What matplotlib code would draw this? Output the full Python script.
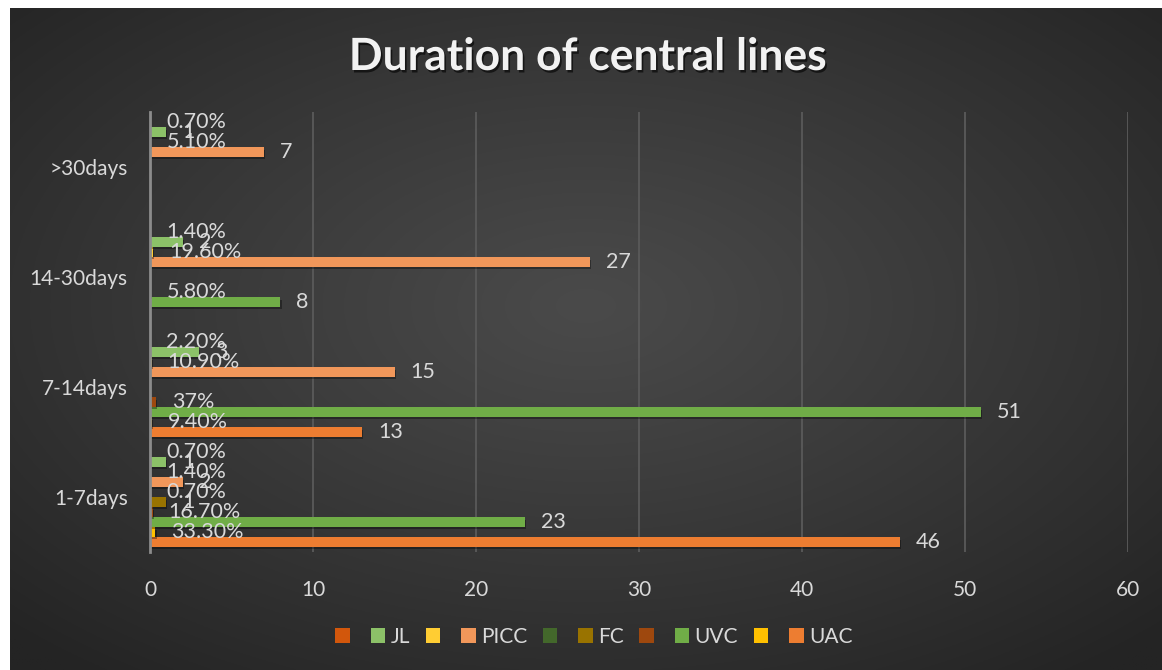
import numpy as np
import matplotlib
matplotlib.use("Agg")
import matplotlib.pyplot as plt
import matplotlib.patheffects as pe
from matplotlib.patches import Patch

nan = np.nan

categories = ["1-7days", "7-14days", "14-30days", ">30days"]

# counts per line type and the share labels that go with them
uac = [46, 13, nan, nan]
uac_pct = ["33.30%", "9.40%", None, None]
uvc = [23, 51, 8, nan]
uvc_pct = ["16.70%", "37%", "5.80%", None]
fc = [1, nan, nan, nan]
fc_pct = ["0.70%", None, None, None]
picc = [2, 15, 27, 7]
picc_pct = ["1.40%", "10.90%", "19.60%", "5.10%"]
jl = [1, 3, 2, 1]
jl_pct = ["0.70%", "2.20%", "1.40%", "0.70%"]

x_ticks = [0, 10, 20, 30, 40, 50, 60]


def pct_values(labels):
    return [float(s.rstrip("%")) / 100 if s else nan for s in labels]


def count_labels(values):
    return ["" if np.isnan(v) else f"{v:g}" for v in values]


# bottom to top inside each group
series = [
    ("UAC", uac, count_labels(uac), "#ED7D31"),
    ("", pct_values(uac_pct), uac_pct, "#FFC000"),
    ("UVC", uvc, count_labels(uvc), "#70AD47"),
    ("", pct_values(uvc_pct), uvc_pct, "#9E480E"),
    ("FC", fc, count_labels(fc), "#997300"),
    ("", pct_values(fc_pct), fc_pct, "#43682B"),
    ("PICC", picc, count_labels(picc), "#F1975A"),
    ("", pct_values(picc_pct), picc_pct, "#FFCD33"),
    ("JL", jl, count_labels(jl), "#8CC168"),
    ("", pct_values(jl_pct), jl_pct, "#D2570C"),
]

txt = "#D9D9D9"
font = "Lato"

W, H = 1162, 670
fig = plt.figure(figsize=(W / 100, H / 100), dpi=100)
fig.patch.set_facecolor("white")

# dark radial background
bg = fig.add_axes([10 / W, 0, 1 - 10 / W, 1 - 8 / H])
bg.set_axis_off()
gy, gx = np.mgrid[0:1:400j, 0:1:700j]
r = np.sqrt(((gx - 0.5) / 0.5) ** 2 + ((gy - 0.45) / 0.5) ** 2) / np.sqrt(2)
shade = (74 - 38 * np.clip(r, 0, 1) ** 1.1) / 255
bg.imshow(np.dstack([shade] * 3), aspect="auto", extent=[0, 1, 0, 1])

ax = fig.add_axes([150 / W, 1 - 552 / H, (1128 - 150) / W, 440 / H])
ax.set_facecolor("none")

slot = 1 / 11
ypos = np.arange(len(categories))
shadow = [pe.SimplePatchShadow(offset=(0.8, -2), shadow_rgbFace="black", alpha=0.35), pe.Normal()]

for i, (name, vals, labels, color) in enumerate(series):
    y = ypos + (i - 4.5) * slot
    bars = ax.barh(y, vals, height=slot * 0.92, color=color, zorder=3)
    for b in bars:
        b.set_path_effects(shadow)
    for yy, v, lab in zip(y, vals, labels):
        if not lab or np.isnan(v):
            continue
        ax.annotate(lab, (v, yy), xytext=(11.5, 0), textcoords="offset points",
                    ha="left", va="center", color=txt, fontsize=15.5, family=font, zorder=4)

ax.set_xlim(0, 60)
ax.set_ylim(-0.5, len(categories) - 0.5)
ax.set_xticks(x_ticks)
ax.set_yticks(ypos)
ax.set_yticklabels(categories)
ax.tick_params(length=0, labelsize=15, labelcolor=txt)
ax.tick_params(axis="x", pad=20)
ax.tick_params(axis="y", pad=16)
for t in ax.get_xticklabels() + ax.get_yticklabels():
    t.set_family(font)
ax.xaxis.grid(True, color="#5A5A5A", lw=1.3)
ax.set_axisbelow(True)
for s in ["top", "right", "bottom"]:
    ax.spines[s].set_visible(False)
ax.spines["left"].set_color("#8C8C8C")
ax.spines["left"].set_linewidth(2)
ax.spines["left"].set_zorder(5)

fig.text(588 / W, 1 - 57 / H, "Duration of central lines", ha="center", va="center",
         color="#F2F2F2", fontsize=32, fontweight="bold", family=font,
         path_effects=[pe.SimplePatchShadow(offset=(1.2, -1.8), shadow_rgbFace="black", alpha=0.6),
                       pe.Normal()])

handles = [Patch(facecolor=c) for _, _, _, c in series][::-1]
names = [n for n, _, _, _ in series][::-1]
fig.legend(handles, names, loc="center", bbox_to_anchor=(594 / W, 1 - 637 / H), ncol=10,
           frameon=False, labelcolor=txt, prop={"family": font, "size": 15},
           handlelength=0.7, handleheight=0.7, columnspacing=0.75, handletextpad=0.25)

fig.savefig("out.png", dpi=100, facecolor=fig.get_facecolor())
